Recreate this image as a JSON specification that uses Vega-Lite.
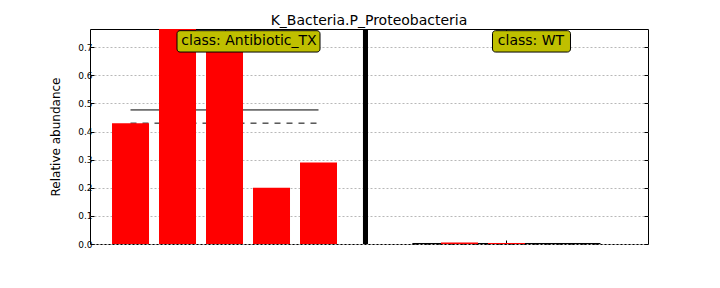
{
  "$schema": "https://vega.github.io/schema/vega-lite/v6.json",
  "width": 558,
  "height": 215,
  "autosize": {"type": "none"},
  "padding": {"left": 90, "top": 29, "right": 72, "bottom": 44},
  "background": "white",
  "config": {
    "font": "DejaVu Sans",
    "view": {"stroke": "black", "strokeWidth": 1},
    "scale": {"continuousPadding": 0}
  },
  "title": {
    "text": "K_Bacteria.P_Proteobacteria",
    "fontSize": 14,
    "fontWeight": "normal",
    "font": "DejaVu Sans",
    "color": "black",
    "anchor": "middle",
    "frame": "group",
    "baseline": "alphabetic",
    "offset": 6,
    "dy": 19
  },
  "data": {
    "values": [
      {"pos": 0, "class": "Antibiotic_TX", "value": 0.43},
      {"pos": 1, "class": "Antibiotic_TX", "value": 0.765},
      {"pos": 2, "class": "Antibiotic_TX", "value": 0.70},
      {"pos": 3, "class": "Antibiotic_TX", "value": 0.20},
      {"pos": 4, "class": "Antibiotic_TX", "value": 0.29},
      {"pos": 6, "class": "WT", "value": 0.0},
      {"pos": 7, "class": "WT", "value": 0.005},
      {"pos": 8, "class": "WT", "value": 0.004},
      {"pos": 9, "class": "WT", "value": 0.0},
      {"pos": 10, "class": "WT", "value": 0.0}
    ]
  },
  "layer": [
    {
      "transform": [
        {"aggregate": [
          {"op": "mean", "field": "value", "as": "mean"},
          {"op": "median", "field": "value", "as": "median"},
          {"op": "min", "field": "pos", "as": "start"},
          {"op": "max", "field": "pos", "as": "end"}
        ], "groupby": ["class"]}
      ],
      "layer": [
        {
          "mark": {"type": "rule", "color": "black", "strokeWidth": 1},
          "encoding": {
            "x": {"field": "start", "type": "quantitative", "axis": null},
            "x2": {"field": "end"},
            "y": {"field": "mean", "type": "quantitative", "axis": null}
          }
        },
        {
          "mark": {"type": "rule", "color": "black", "strokeWidth": 1, "strokeDash": [6, 6]},
          "encoding": {
            "x": {"field": "start", "type": "quantitative", "axis": null},
            "x2": {"field": "end"},
            "y": {"field": "median", "type": "quantitative", "axis": null}
          }
        }
      ]
    },
    {
      "mark": {"type": "bar", "color": "#ff0000", "width": 37},
      "encoding": {
        "x": {
          "field": "pos",
          "type": "quantitative",
          "scale": {"domain": [-0.862, 11.011], "nice": false, "zero": false, "padding": 0},
          "axis": {"orient": "bottom", "values": [2, 8], "labels": false, "tickSize": -4, "tickColor": "black", "domain": false, "grid": false, "title": null}
        },
        "y": {
          "field": "value",
          "type": "quantitative",
          "scale": {"domain": [0, 0.765], "nice": false, "zero": false, "padding": 0},
          "axis": {
            "orient": "left",
            "values": [0, 0.1, 0.2, 0.3, 0.4, 0.5, 0.6, 0.7],
            "format": ".1f",
            "labelFontSize": 9,
            "labelColor": "black",
            "tickSize": -4,
            "tickColor": "black",
            "labelPadding": 2,
            "domain": false,
            "grid": true,
            "gridColor": "#b8b8b8",
            "gridDash": [2, 2],
            "gridWidth": 1,
            "title": "Relative abundance",
            "titleFontSize": 12,
            "titleFontWeight": "normal",
            "titleColor": "black",
            "titlePadding": 15
          }
        }
      }
    },
    {
      "mark": {"type": "rule", "color": "black", "strokeWidth": 5},
      "encoding": {
        "x": {"datum": 5, "type": "quantitative", "axis": null}
      }
    },
    {
      "transform": [
        {"aggregate": [{"op": "mean", "field": "pos", "as": "cpos"}], "groupby": ["class"]},
        {"calculate": "'class: ' + datum['class']", "as": "label"}
      ],
      "layer": [
        {
          "transform": [{"filter": "datum['class'] == 'Antibiotic_TX'"}],
          "mark": {"type": "rect", "fill": "#bfbf00", "stroke": "black", "strokeWidth": 1, "cornerRadius": 3, "xOffset": -47.5, "x2Offset": 95.5},
          "encoding": {
            "x": {"field": "cpos", "type": "quantitative", "axis": null},
            "x2": {"field": "cpos"},
            "y": {"datum": 0.759, "type": "quantitative", "axis": null},
            "y2": {"datum": 0.683}
          }
        },
        {
          "transform": [{"filter": "datum['class'] == 'WT'"}],
          "mark": {"type": "rect", "fill": "#bfbf00", "stroke": "black", "strokeWidth": 1, "cornerRadius": 3, "xOffset": -14, "x2Offset": 64},
          "encoding": {
            "x": {"field": "cpos", "type": "quantitative", "axis": null},
            "x2": {"field": "cpos"},
            "y": {"datum": 0.759, "type": "quantitative", "axis": null},
            "y2": {"datum": 0.683}
          }
        },
        {
          "mark": {"type": "text", "fontSize": 14, "color": "black", "align": "center", "baseline": "middle", "xOffset": 24.5, "font": "DejaVu Sans"},
          "encoding": {
            "x": {"field": "cpos", "type": "quantitative", "axis": null},
            "y": {"datum": 0.721, "type": "quantitative", "axis": null},
            "text": {"field": "label"}
          }
        }
      ]
    },
    {
      "mark": {"type": "point", "opacity": 0},
      "encoding": {
        "x": {
          "field": "pos",
          "type": "quantitative",
          "axis": {"orient": "top", "values": [2, 8], "labels": false, "tickSize": -4, "tickColor": "black", "domain": false, "grid": false, "title": null}
        },
        "y": {
          "field": "value",
          "type": "quantitative",
          "axis": {"orient": "right", "values": [0, 0.1, 0.2, 0.3, 0.4, 0.5, 0.6, 0.7], "labels": false, "tickSize": -4, "tickColor": "black", "domain": false, "grid": false, "title": null}
        }
      }
    }
  ],
  "resolve": {"axis": {"x": "independent", "y": "independent"}}
}
